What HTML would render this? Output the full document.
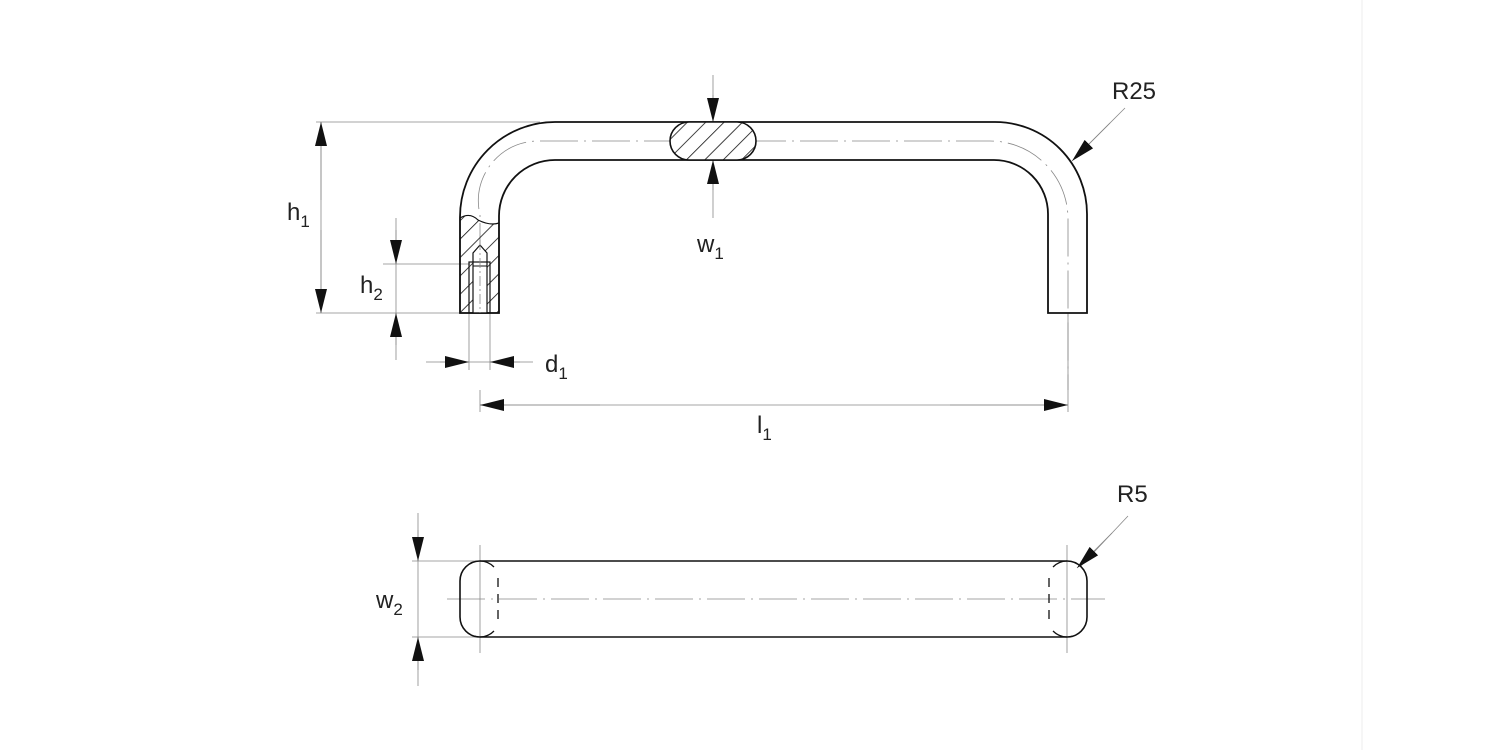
<!DOCTYPE html>
<html><head><style>html,body{margin:0;padding:0;background:#fff}svg{display:block}</style></head><body>
<svg width="1500" height="750" viewBox="0 0 1500 750" xmlns="http://www.w3.org/2000/svg" font-family="Liberation Sans, sans-serif">
<defs>
<marker id="a" viewBox="0 0 24 12" refX="24" refY="6" markerWidth="24" markerHeight="12" markerUnits="userSpaceOnUse" orient="auto"><path d="M0,0 L24,6 L0,12 Z" fill="#111"/></marker>
<pattern id="h" width="13" height="13" patternUnits="userSpaceOnUse" patternTransform="rotate(45)"><line x1="0" y1="0" x2="0" y2="13" stroke="#111" stroke-width="1.6"/></pattern>
<clipPath id="ec"><rect x="670" y="122" width="86" height="38" rx="19"/></clipPath>
</defs>
<line x1="1362" y1="0" x2="1362" y2="750" stroke="#eee" stroke-width="1"/>
<g stroke="#888" stroke-width="0.8" fill="none">
<line x1="316" y1="122" x2="540" y2="122"/>
<line x1="316" y1="313" x2="460" y2="313"/>
<line x1="383" y1="264" x2="470" y2="264"/>
<line x1="321" y1="122" x2="321" y2="313"/>
<line x1="396" y1="218" x2="396" y2="360"/>
<line x1="469" y1="313" x2="469" y2="370"/>
<line x1="490" y1="313" x2="490" y2="370"/>
<line x1="426" y1="362" x2="533" y2="362"/>
<line x1="480" y1="390" x2="480" y2="412"/>
<line x1="1068" y1="313" x2="1068" y2="412"/>
<line x1="480" y1="405" x2="1068" y2="405"/>
<line x1="713" y1="75" x2="713" y2="218"/>
<line x1="1075" y1="158" x2="1125" y2="108"/>
<line x1="1080" y1="567" x2="1128" y2="516"/>
<line x1="418" y1="513" x2="418" y2="686"/>
<line x1="412" y1="561" x2="480" y2="561"/>
<line x1="412" y1="637" x2="480" y2="637"/>
<line x1="480" y1="545" x2="480" y2="653"/>
<line x1="1067" y1="545" x2="1067" y2="653"/>
</g>
<g stroke="#888" stroke-width="0.8" fill="none" stroke-dasharray="38,6,2,6">
<path d="M480,313 L480,215 A60,60 0 0 1 540,141 L990,141 A78,78 0 0 1 1068,219 L1068,390"/>
<line x1="447" y1="599" x2="1105" y2="599"/>
</g>
<g stroke="#888" stroke-width="0.8" fill="none">
<line x1="321" y1="200" x2="321" y2="122" marker-end="url(#a)"/>
<line x1="321" y1="230" x2="321" y2="313" marker-end="url(#a)"/>
<line x1="396" y1="230" x2="396" y2="264" marker-end="url(#a)"/>
<line x1="396" y1="345" x2="396" y2="313" marker-end="url(#a)"/>
<line x1="440" y1="362" x2="469" y2="362" marker-end="url(#a)"/>
<line x1="520" y1="362" x2="490" y2="362" marker-end="url(#a)"/>
<line x1="600" y1="405" x2="480" y2="405" marker-end="url(#a)"/>
<line x1="950" y1="405" x2="1068" y2="405" marker-end="url(#a)"/>
<line x1="713" y1="95" x2="713" y2="122" marker-end="url(#a)"/>
<line x1="713" y1="190" x2="713" y2="160" marker-end="url(#a)"/>
<line x1="1110" y1="123" x2="1072" y2="161" marker-end="url(#a)"/>
<line x1="1112" y1="533" x2="1077" y2="568" marker-end="url(#a)"/>
<line x1="418" y1="530" x2="418" y2="561" marker-end="url(#a)"/>
<line x1="418" y1="670" x2="418" y2="637" marker-end="url(#a)"/>
</g>
<g stroke="#111" stroke-width="1.8" fill="none">
<path d="M460,313 L460,217 A95,95 0 0 1 555,122 L995,122 A92,92 0 0 1 1087,214 L1087,313 L1048,313 L1048,214 A54,54 0 0 0 994,160 L555,160 A56,56 0 0 0 499,216 L499,313 Z"/>
</g>
<path d="M460,218 Q470,212 478,220 Q490,226 499,223 L499,313 L460,313 Z" fill="url(#h)" stroke="#111" stroke-width="1.2"/>
<path d="M473,313 L473,253 L480,245 L487,253 L487,313 Z" fill="#fff" stroke="#111" stroke-width="1.2"/>
<rect x="469" y="262" width="21" height="51" fill="none" stroke="#111" stroke-width="1.2"/>
<line x1="473" y1="266" x2="487" y2="266" stroke="#111" stroke-width="1"/>
<line x1="480" y1="240" x2="480" y2="313" stroke="#888" stroke-width="0.8" stroke-dasharray="10,3,2,3"/>
<rect x="670" y="122" width="86" height="38" fill="#fff" clip-path="url(#ec)"/>
<rect x="670" y="122" width="86" height="38" fill="url(#h)" clip-path="url(#ec)"/>
<rect x="670" y="122" width="86" height="38" rx="19" fill="none" stroke="#111" stroke-width="1.6"/>
<path d="M480,561 L1067,561 A20,20 0 0 1 1087,581 L1087,617 A20,20 0 0 1 1067,637 L480,637 A20,20 0 0 1 460,617 L460,581 A20,20 0 0 1 480,561 Z" fill="none" stroke="#111" stroke-width="1.6"/>
<g stroke="#111" stroke-width="1.3" fill="none">
<path d="M480,561 A20,20 0 0 1 494,567"/>
<path d="M480,637 A20,20 0 0 0 494,631"/>
<path d="M1067,561 A20,20 0 0 0 1053,567"/>
<path d="M1067,637 A20,20 0 0 1 1053,631"/>
<line x1="498" y1="578" x2="498" y2="620" stroke-dasharray="9,7"/>
<line x1="1049" y1="578" x2="1049" y2="620" stroke-dasharray="9,7"/>
</g>
<g fill="#222" font-size="24">
<text x="287" y="220">h<tspan font-size="17" dy="7">1</tspan></text>
<text x="360" y="293">h<tspan font-size="17" dy="7">2</tspan></text>
<text x="545" y="372">d<tspan font-size="17" dy="7">1</tspan></text>
<text x="757" y="433">l<tspan font-size="17" dy="7">1</tspan></text>
<text x="697" y="252">w<tspan font-size="17" dy="7">1</tspan></text>
<text x="1112" y="99">R25</text>
<text x="1117" y="502">R5</text>
<text x="376" y="608">w<tspan font-size="17" dy="7">2</tspan></text>
</g>
</svg>
</body></html>
